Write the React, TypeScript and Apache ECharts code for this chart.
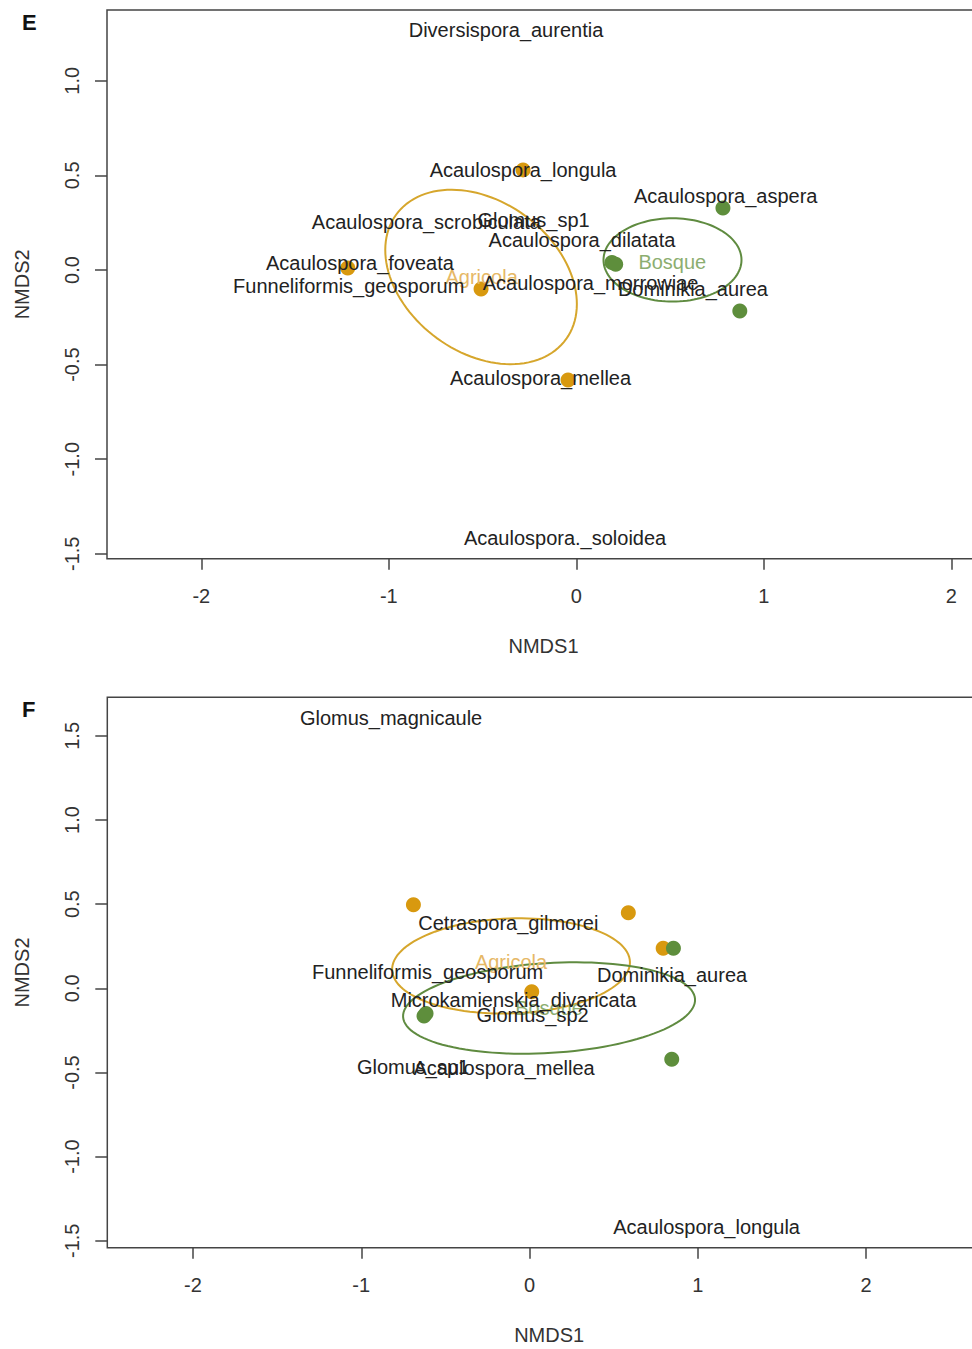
import React, { useEffect, useRef } from "react";
import * as echarts from "echarts";

// ---------- Panel E ----------
const eAgricolaPts: number[][] = [[-0.284, 0.529], [-1.219, 0.011], [-0.508, -0.100], [-0.044, -0.581]];
const eBosquePts: number[][] = [[0.782, 0.328], [0.190, 0.040], [0.210, 0.030], [0.872, -0.217]];
const eSpecies = [
  "Diversispora_aurentia", "Acaulospora_longula", "Acaulospora_aspera", "Acaulospora_scrobiculata",
  "Glomus_sp1", "Acaulospora_dilatata", "Acaulospora_foveata", "Funneliformis_geosporum",
  "Acaulospora_morrowiae", "Dominikia_aurea", "Acaulospora_mellea", "Acaulospora._soloidea",
];
const eSpeciesX = [-0.375, -0.284, 0.797, -0.80, -0.228, 0.030, -1.154, -1.214, 0.076, 0.622, -0.191, -0.060];
const eSpeciesY = [1.268, 0.529, 0.391, 0.255, 0.264, 0.159, 0.037, -0.085, -0.067, -0.100, -0.571, -1.417];
const eGroupX = [-0.505, 0.512];
const eGroupY = [-0.035, 0.044];
// ellipse: [centerX, centerY, semiAxisA, semiAxisB, angleDeg]
const eEllipseAgricola = [-0.508, -0.037, 0.56, 0.40, -35.8];
const eEllipseBosque = [0.513, 0.053, 0.368, 0.220, 0];

// ---------- Panel F ----------
const fAgricolaPts: number[][] = [[-0.690, 0.496], [0.587, 0.449], [0.794, 0.238], [0.013, -0.020]];
const fBosquePts: number[][] = [[-0.627, -0.165], [-0.615, -0.150], [0.855, 0.238], [0.845, -0.422]];
const fSpecies = [
  "Glomus_magnicaule", "Cetraspora_gilmorei", "Funneliformis_geosporum", "Dominikia_aurea",
  "Microkamienskia_divaricata", "Glomus_sp2", "Glomus_sp1", "Acaulospora_mellea", "Acaulospora_longula",
];
const fSpeciesX = [-0.823, -0.126, -0.606, 0.847, -0.095, 0.018, -0.692, -0.151, 1.052];
const fSpeciesY = [1.606, 0.386, 0.097, 0.079, -0.070, -0.159, -0.468, -0.474, -1.418];
const fGroupX = [-0.110, 0.116];
const fGroupY = [0.158, -0.117];
const fEllipseAgricola = [-0.110, 0.133, 0.707, 0.282, 2];
const fEllipseBosque = [0.116, -0.117, 0.869, 0.267, 3.5];

const groupNames = ["Agricola", "Bosque"];
const xTicks = [-2, -1, 0, 1, 2];
const yTicks = [-1.5, -1, -0.5, 0, 0.5, 1, 1.5];

const FONT = "Liberation Sans, Arial, sans-serif";
const ORANGE_PT = "#D8990F";
const GREEN_PT = "#5E8E3C";
const ORANGE_LINE = "#D6A62C";
const GREEN_LINE = "#5F8B40";
const ORANGE_TXT = "#E6B866";
const GREEN_TXT = "#8CAE70";

const CHART_W = 1000;
const CHART_H = 1349;

function ellipseSeries(idx: number, ell: number[], color: string) {
  return {
    type: "custom",
    xAxisIndex: idx,
    yAxisIndex: idx,
    z: 3,
    data: [ell],
    encode: { x: 0, y: 1 },
    renderItem: (params: any, api: any) => {
      const cx = api.value(0), cy = api.value(1), a = api.value(2), b = api.value(3);
      const th = (api.value(4) * Math.PI) / 180;
      const pts: number[][] = [];
      for (let i = 0; i < 120; i++) {
        const t = (i / 120) * Math.PI * 2;
        const x = cx + a * Math.cos(t) * Math.cos(th) - b * Math.sin(t) * Math.sin(th);
        const y = cy + a * Math.cos(t) * Math.sin(th) + b * Math.sin(t) * Math.cos(th);
        pts.push(api.coord([x, y]));
      }
      return { type: "polygon", shape: { points: pts }, style: { fill: "none", stroke: color, lineWidth: 2 } };
    },
  };
}

function textSeries(idx: number, names: string[], xs: number[], ys: number[], colors: string[] | string, z: number) {
  return {
    type: "custom",
    xAxisIndex: idx,
    yAxisIndex: idx,
    z,
    data: xs.map((x, i) => [x, ys[i]]),
    encode: { x: 0, y: 1 },
    renderItem: (params: any, api: any) => {
      const p = api.coord([api.value(0), api.value(1)]);
      const c = Array.isArray(colors) ? colors[params.dataIndex] : colors;
      return {
        type: "text",
        x: p[0],
        y: p[1],
        style: {
          text: names[params.dataIndex],
          fill: c,
          font: `20px ${FONT}`,
          align: "center",
          verticalAlign: "middle",
        },
      };
    },
  };
}

function pointSeries(idx: number, pts: number[][], color: string) {
  return {
    type: "scatter",
    xAxisIndex: idx,
    yAxisIndex: idx,
    z: 2,
    symbol: "circle",
    symbolSize: 15,
    itemStyle: { color, opacity: 1 },
    data: pts,
  };
}

function xAxisCfg(idx: number, min: number, max: number) {
  return {
    type: "value",
    gridIndex: idx,
    min,
    max,
    name: "NMDS1",
    nameLocation: "middle",
    nameGap: 77,
    nameTextStyle: { fontFamily: FONT, fontSize: 20, color: "#333" },
    splitLine: { show: false },
    axisLine: { show: false, onZero: false },
    axisTick: { show: true, length: 11, customValues: xTicks, lineStyle: { color: "#444", width: 1.5 } },
    axisLabel: {
      customValues: xTicks,
      margin: 27,
      fontFamily: FONT,
      fontSize: 20,
      color: "#333",
      formatter: (v: number) => String(v),
    },
  };
}

function yAxisCfg(idx: number, min: number, max: number, ticks: number[]) {
  return {
    type: "value",
    gridIndex: idx,
    min,
    max,
    name: "NMDS2",
    nameLocation: "middle",
    nameGap: 75,
    nameTextStyle: { fontFamily: FONT, fontSize: 20, color: "#333" },
    splitLine: { show: false },
    axisLine: { show: false, onZero: false },
    axisTick: { show: true, length: 12, customValues: ticks, lineStyle: { color: "#444", width: 1.5 } },
    axisLabel: {
      customValues: ticks,
      rotate: 90,
      margin: 25,
      fontFamily: FONT,
      fontSize: 20,
      color: "#333",
      formatter: (v: number) => v.toFixed(1),
    },
  };
}

export default function App() {
  const ref = useRef<HTMLDivElement>(null);
  useEffect(() => {
    if (!ref.current) return;
    const chart = echarts.init(ref.current, undefined, { renderer: "svg" });
    const option: any = {
      animation: false,
      backgroundColor: "#ffffff",
      grid: [
        { left: 107, top: 10, right: CHART_W - 980, bottom: 790.3, show: true, borderColor: "#444", borderWidth: 1.5, backgroundColor: "transparent" },
        { left: 107.3, top: 697.3, right: CHART_W - 991, bottom: 101.3, show: true, borderColor: "#444", borderWidth: 1.5, backgroundColor: "transparent" },
      ],
      xAxis: [xAxisCfg(0, -2.503, 2.153), xAxisCfg(1, -2.509, 2.742)],
      yAxis: [
        yAxisCfg(0, -1.526, 1.374, yTicks.filter((t) => t <= 1.0)),
        yAxisCfg(1, -1.541, 1.729, yTicks),
      ],
      graphic: [
        { type: "text", left: 22, top: 11, style: { text: "E", font: `bold 22px ${FONT}`, fill: "#111" } },
        { type: "text", left: 22, top: 698, style: { text: "F", font: `bold 22px ${FONT}`, fill: "#111" } },
      ],
      series: [
        pointSeries(0, eAgricolaPts, ORANGE_PT),
        pointSeries(0, eBosquePts, GREEN_PT),
        ellipseSeries(0, eEllipseAgricola, ORANGE_LINE),
        ellipseSeries(0, eEllipseBosque, GREEN_LINE),
        textSeries(0, groupNames, eGroupX, eGroupY, [ORANGE_TXT, GREEN_TXT], 4),
        textSeries(0, eSpecies, eSpeciesX, eSpeciesY, "#222", 5),
        pointSeries(1, fAgricolaPts, ORANGE_PT),
        pointSeries(1, fBosquePts, GREEN_PT),
        ellipseSeries(1, fEllipseAgricola, ORANGE_LINE),
        ellipseSeries(1, fEllipseBosque, GREEN_LINE),
        textSeries(1, groupNames, fGroupX, fGroupY, [ORANGE_TXT, GREEN_TXT], 4),
        textSeries(1, fSpecies, fSpeciesX, fSpeciesY, "#222", 5),
      ],
    };
    chart.setOption(option);
    return () => chart.dispose();
  }, []);
  return (
    <div style={{ position: "absolute", left: 0, top: 0, width: 972, height: 1349, overflow: "hidden", background: "#fff" }}>
      <div ref={ref} style={{ width: CHART_W, height: CHART_H }} />
    </div>
  );
}
